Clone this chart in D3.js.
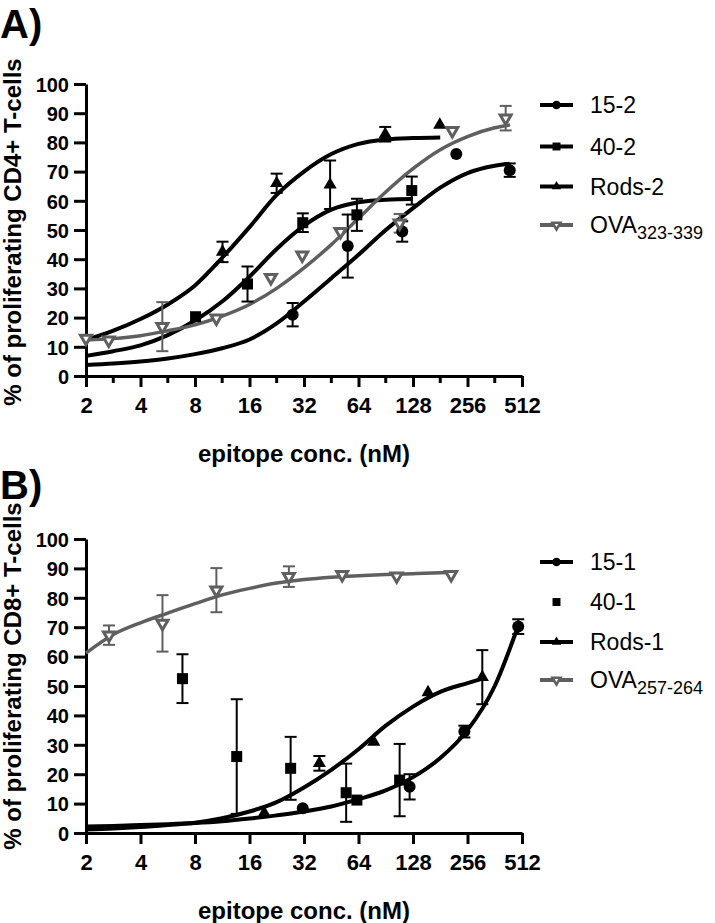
<!DOCTYPE html>
<html><head><meta charset="utf-8">
<script src="https://cdn.jsdelivr.net/npm/d3@7"></script>
<style>body{margin:0;background:#fff}svg{display:block}</style>
</head><body>
<script>
// ---------- tick labels ----------
const xTicks = [2, 4, 8, 16, 32, 64, 128, 256, 512];
const xMinorTicks = [2.83, 5.66, 11.3, 22.6, 45.3, 90.5, 181, 362];
const yTicks = [0, 10, 20, 30, 40, 50, 60, 70, 80, 90, 100];

// ---------- Panel A (CD4+) ----------
const namesA = ["15-2", "40-2", "Rods-2", "OVA"];
const subA = ["", "", "", "323-339"];
// measured points
const a152_c = [27.7, 55.8, 111.6, 222, 438];
const a152_v = [21, 44.5, 49.5, 76, 70.5];
const a152_e = [4, 10.8, 3.5, 0, 2.3];
const a402_c = [8.06, 15.6, 31.5, 62.7, 126];
const a402_v = [20.3, 31.5, 52.5, 55.2, 63.5];
const a402_e = [0, 6, 3.2, 5.5, 4.8];
const aRods_c = [11.35, 22.6, 44.6, 89.9, 180];
const aRods_v = [42.5, 66, 65.5, 82.8, 86];
const aRods_e = [3.5, 3.3, 8.3, 2.5, 0];
const aOva_c = [2, 2.67, 5.28, 10.5, 21, 31.3, 50.9, 108, 211, 416];
const aOva_v = [12.9, 12.3, 16.9, 19.8, 33.7, 41.4, 49.4, 52.3, 84, 88.3];
const aOva_e = [0, 0, 8.4, 0, 0, 0, 0, 3.2, 0, 4.2];
// fitted curves [conc, %]
const a152_fit = [[2,3.8],[2.83,4.3],[4,5],[5.66,6],[8,7.5],[11.3,9.5],[16,12.5],[22.6,18],[32,25.5],[45.3,33.5],[64,41.5],[90.5,50],[128,57.5],[181,64.5],[256,69.5],[362,72],[438,72.7]];
const a402_fit = [[2,6.9],[2.83,8.5],[4,10.5],[5.66,14],[8,19],[11.3,25.5],[16,34],[22.6,43.5],[32,51.5],[45.3,57],[64,59.5],[90.5,60.4],[128,60.6]];
const aRods_fit = [[2,12.3],[2.83,15.5],[4,19.5],[5.66,24.5],[8,31],[11.3,40.5],[16,51],[22.6,62],[32,70],[45.3,76],[64,79.5],[90.5,81],[128,81.5],[181,81.7]];
const aOva_fit = [[2,12.3],[2.83,12.8],[4,13.8],[5.66,15.5],[8,17.5],[11.3,20.5],[16,24.5],[22.6,30],[32,37],[45.3,45],[64,54],[90.5,63],[128,71],[181,77.5],[256,82],[362,85],[440,86]];

// ---------- Panel B (CD8+) ----------
const namesB = ["15-1", "40-1", "Rods-1", "OVA"];
const subB = ["", "", "", "257-264"];
const b151_c = [31.5, 122.6, 246, 488];
const b151_v = [8.4, 15.7, 34.5, 70.2];
const b151_e = [0, 4.3, 2, 2.5];
const b401_c = [6.82, 13.6, 27, 54.7, 62.7, 108];
const b401_v = [52.5, 26, 22, 13.7, 11.2, 18];
const b401_e = [8.3, 19.5, 10.7, 9.9, 0, 12.3];
const bRods_c = [19.3, 38.9, 77.7, 155, 309];
const bRods_v = [6.8, 23.7, 31, 47.8, 53];
const bRods_e = [0, 2.5, 0, 0, 9.2];
const bOva_c = [2.68, 5.29, 10.5, 26.4, 52, 104, 208];
const bOva_v = [67.3, 71.3, 82.6, 87.2, 87.9, 87.4, 87.9];
const bOva_e = [3.3, 9.6, 7.5, 3.5, 0, 0, 0];
const b151_fit = [[2,2.2],[2.83,2.4],[4,2.7],[5.66,3],[8,3.4],[11.3,4],[16,4.9],[22.6,6],[32,7.3],[45.3,9],[64,11.5],[90.5,14.5],[128,19],[181,25.5],[256,35],[362,50],[488,70.5]];
const bRods_fit = [[2,1.2],[2.83,1.5],[4,2],[5.66,2.7],[8,3.5],[11.3,5],[16,7.3],[22.6,10.5],[32,15.5],[45.3,21.5],[64,28.5],[90.5,36.5],[128,43],[181,48],[256,51],[309,52.5]];
const bOva_fit = [[2,61.2],[2.83,67.5],[4,71.5],[5.66,74.8],[8,78],[11.3,81],[16,83.2],[22.6,85],[32,86.2],[45.3,87],[64,87.5],[90.5,87.9],[128,88.2],[181,88.5],[208,88.6]];

// ---------- drawing ----------
const W = 715, H = 923;
const FONT = '"Liberation Sans", Arial, Helvetica, sans-serif';
const BLACK = "#000", GRAY = "#5f5f5f";
const svg = d3.select("body").append("svg").attr("width", W).attr("height", H)
  .style("font-family", FONT);

function pts(c, v, e) { return c.map((d, i) => ({c: d, v: v[i], e: e[i]})); }

function drawPanel(o) {
  const x = d3.scaleLog().base(2).domain([2, 512]).range([86, 522]);
  const y = d3.scaleLinear().domain([0, 100]).range([o.y0, o.y100]);
  const g = svg.append("g");

  // panel letter
  g.append("text").attr("x", 0).attr("y", o.letterY).text(o.letter)
    .attr("font-size", 40).attr("font-weight", "bold");

  // x axis
  const xa = g.append("g").attr("transform", `translate(0,${o.y0})`)
    .call(d3.axisBottom(x).tickValues(xTicks).tickFormat(d3.format("d"))
      .tickSize(11).tickSizeOuter(0).tickPadding(10));
  if (o.minor) {
    xa.selectAll(".minor").data(xMinorTicks).enter().append("line")
      .attr("class", "minor").attr("x1", d => x(d)).attr("x2", d => x(d))
      .attr("y1", 0).attr("y2", 7);
  }
  // y axis
  const ya = g.append("g").attr("transform", `translate(86,0)`)
    .call(d3.axisLeft(y).tickValues(yTicks).tickSize(12).tickSizeOuter(0).tickPadding(5));
  [xa, ya].forEach(a => {
    a.select(".domain").attr("stroke", BLACK).attr("stroke-width", 3);
    a.selectAll("line").attr("stroke", BLACK).attr("stroke-width", 3);
    a.selectAll("text").attr("fill", BLACK).attr("font-weight", "bold")
      .attr("font-family", FONT);
  });
  xa.selectAll("text").attr("font-size", 22);
  ya.selectAll("text").attr("font-size", 20).attr("dy", "0.36em");

  // axis titles
  g.append("text").attr("x", 304).attr("y", o.y0 + 86).attr("text-anchor", "middle")
    .attr("font-size", 24).attr("font-weight", "bold").text("epitope conc. (nM)");
  g.append("text").attr("transform", `translate(21,${o.yTitleC}) rotate(-90)`)
    .attr("text-anchor", "middle").attr("font-size", 24).attr("font-weight", "bold")
    .text(o.yTitle);

  const line = d3.line().x(d => x(d[0])).y(d => y(d[1])).curve(d3.curveMonotoneX);

  // curves
  o.series.forEach(s => {
    if (!s.fit) return;
    g.append("path").attr("d", line(s.fit)).attr("fill", "none")
      .attr("stroke", s.color).attr("stroke-width", s.color === GRAY ? 3.5 : 4);
  });

  // error bars
  o.series.forEach(s => {
    const eg = g.append("g").attr("stroke", s.color).attr("stroke-width", 2);
    s.data.filter(d => d.e > 0).forEach(d => {
      const cx = x(d.c);
      eg.append("line").attr("x1", cx).attr("x2", cx).attr("y1", y(d.v - d.e)).attr("y2", y(d.v + d.e));
      [d.v - d.e, d.v + d.e].forEach(t => eg.append("line")
        .attr("x1", cx - 6).attr("x2", cx + 6).attr("y1", y(t)).attr("y2", y(t)));
    });
  });

  // markers
  function marker(sel, shape, color, big) {
    const k = big ? 1 : 0.72;
    if (shape === "circle") sel.append("circle").attr("r", 6 * k).attr("fill", color);
    else if (shape === "square") sel.append("rect").attr("x", -5.5 * k).attr("y", -5.5 * k)
      .attr("width", 11 * k).attr("height", 11 * k).attr("fill", color);
    else if (shape === "tri") sel.append("path")
      .attr("d", d3.symbol(d3.symbolTriangle, 75 * k * k)()).attr("fill", color);
    else if (shape === "dtri") sel.append("path")
      .attr("d", d3.symbol(d3.symbolTriangle, 52 * k * k)()).attr("transform", "rotate(180)")
      .attr("fill", "#fff").attr("stroke", color).attr("stroke-width", 3 * (big ? 1 : 0.85));
  }
  o.series.forEach(s => {
    s.data.forEach(d => {
      const m = g.append("g").attr("transform", `translate(${x(d.c)},${y(d.v)})`);
      marker(m, s.shape, s.color, true);
    });
  });

  // legend
  o.series.forEach((s, i) => {
    const ly = o.legendY[i];
    const lg = g.append("g").attr("transform", `translate(0,${ly})`);
    if (s.fit) lg.append("line").attr("x1", 540).attr("x2", 573).attr("y1", 0).attr("y2", 0)
      .attr("stroke", s.color).attr("stroke-width", 4);
    const mg = lg.append("g").attr("transform", "translate(556.5,0)");
    marker(mg, s.shape, s.color, false);
    const t = lg.append("text").attr("x", 590).attr("y", 8.2).attr("font-size", 23)
      .attr("fill", BLACK).text(s.name);
    if (s.sub) t.append("tspan").attr("font-size", 18).attr("dy", 6).text(s.sub);
  });
}

drawPanel({
  letter: "A)", letterY: 38, y0: 376, y100: 84, minor: true,
  yTitle: "% of proliferating CD4+ T-cells", yTitleC: 232,
  legendY: [105, 146.5, 186.5, 225],
  series: [
    {name: namesA[0], sub: subA[0], shape: "circle", color: BLACK, data: pts(a152_c, a152_v, a152_e), fit: a152_fit},
    {name: namesA[1], sub: subA[1], shape: "square", color: BLACK, data: pts(a402_c, a402_v, a402_e), fit: a402_fit},
    {name: namesA[2], sub: subA[2], shape: "tri", color: BLACK, data: pts(aRods_c, aRods_v, aRods_e), fit: aRods_fit},
    {name: namesA[3], sub: subA[3], shape: "dtri", color: GRAY, data: pts(aOva_c, aOva_v, aOva_e), fit: aOva_fit}
  ]
});

drawPanel({
  letter: "B)", letterY: 499, y0: 833, y100: 539, minor: false,
  yTitle: "% of proliferating CD8+ T-cells", yTitleC: 676,
  legendY: [562, 602, 642, 680],
  series: [
    {name: namesB[0], sub: subB[0], shape: "circle", color: BLACK, data: pts(b151_c, b151_v, b151_e), fit: b151_fit},
    {name: namesB[1], sub: subB[1], shape: "square", color: BLACK, data: pts(b401_c, b401_v, b401_e), fit: null},
    {name: namesB[2], sub: subB[2], shape: "tri", color: BLACK, data: pts(bRods_c, bRods_v, bRods_e), fit: bRods_fit},
    {name: namesB[3], sub: subB[3], shape: "dtri", color: GRAY, data: pts(bOva_c, bOva_v, bOva_e), fit: bOva_fit}
  ]
});
</script>
</body></html>
